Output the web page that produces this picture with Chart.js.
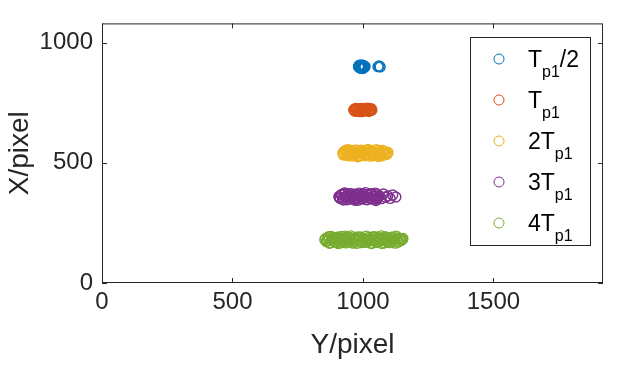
<!DOCTYPE html>
<html>
<head>
<meta charset="utf-8">
<script src="https://cdn.jsdelivr.net/npm/chart.js@4"></script>
<style>
  html, body { margin: 0; padding: 0; background: #fff; }
  #wrap { width: 617px; height: 369px; }
</style>
</head>
<body>
<div id="wrap"><canvas id="myChart" width="617" height="369"></canvas></div>
<script>
// ejes
const xTicks = [0, 500, 1000, 1500];
const yTicks = [0, 500, 1000];
const xMax = 1920;
const yMax = 1080;

// series (Y/pixel horizontal, X/pixel vertical)
const tHalfY = [983, 988, 992, 996, 1000, 1004, 1008, 986, 994, 1002, 990, 998, 1058, 1062, 1066,
  989, 993, 997, 1001, 985, 1005, 995, 999];
const tHalfX = [900, 895, 904, 898, 902, 896, 901, 906, 893, 905, 899, 901, 900, 903, 899,
  897, 903, 899, 895, 902, 899, 907, 892];

const t1Y = [965, 970, 975, 980, 985, 990, 995, 1000, 1005, 1010, 1015, 1020, 1025, 1030, 1034, 972, 988, 1008, 1022,
  967, 978, 983, 993, 998, 1003, 1013, 1018, 1028, 1032, 969, 996, 1016];
const t1X = [720, 716, 723, 719, 725, 717, 721, 714, 722, 718, 724, 716, 720, 722, 719, 726, 713, 726, 714,
  723, 714, 722, 726, 717, 724, 720, 727, 717, 725, 715, 713, 723];

const t2Y = [923, 928, 934, 940, 946, 952, 958, 964, 970, 976, 982, 988, 994, 1000, 1006, 1012, 1018, 1024, 1030, 1036, 1042, 1048, 1054, 1060, 1066, 1072, 1078, 1084, 1090, 1096, 940, 980, 1020, 1060, 960, 1000, 1040,
  925, 931, 937, 943, 949, 955, 961, 967, 973, 979, 985, 991, 997, 1003, 1009, 1015, 1021, 1027, 1033, 1039, 1045, 1051, 1057, 1063, 1069, 1075, 1081, 1087, 1093];
const t2X = [540, 548, 532, 545, 536, 552, 528, 543, 549, 535, 541, 530, 553, 538, 546, 533, 550, 539, 527, 547, 542, 534, 551, 537, 544, 529, 548, 540, 535, 543, 555, 525, 556, 526, 540, 546, 532,
  533, 541, 550, 529, 547, 537, 545, 531, 554, 539, 527, 548, 536, 543, 529, 552, 534, 545, 549, 532, 540, 555, 528, 547, 536, 551, 533, 546, 538];

const t3Y = [908, 913, 919, 925, 931, 937, 943, 949, 955, 961, 967, 973, 979, 985, 991, 997, 1003, 1009, 1015, 1021, 1027, 1033, 1039, 1045, 1051, 1057, 1063, 1070, 1078, 1086, 1095, 1104, 1114, 1126, 930, 970, 1010, 1050,
  910, 916, 922, 928, 934, 940, 946, 952, 958, 964, 970, 976, 982, 988, 994, 1000, 1006, 1012, 1018, 1024, 1030, 1036, 1042, 1048, 1054, 1060];
const t3X = [360, 352, 368, 345, 373, 356, 364, 349, 371, 358, 347, 366, 354, 374, 361, 350, 369, 357, 346, 365, 353, 372, 359, 348, 367, 355, 363, 351, 370, 357, 362, 352, 366, 358, 375, 344, 376, 343,
  355, 366, 349, 370, 360, 346, 372, 354, 363, 350, 369, 357, 344, 367, 353, 372, 360, 348, 366, 355, 371, 349, 362, 374, 351, 358];

const t4Y = [854, 860, 866, 872, 878, 884, 890, 896, 902, 908, 914, 920, 926, 932, 938, 944, 950, 956, 962, 968, 974, 980, 986, 992, 998, 1004, 1010, 1016, 1022, 1028, 1034, 1040, 1046, 1052, 1058, 1064, 1070, 1076, 1082, 1088, 1094, 1100, 1106, 1112, 1118, 1124, 1130, 1136, 1142, 1148, 1153,
  857, 863, 869, 875, 881, 887, 893, 899, 905, 911, 917, 923, 929, 935, 941, 947, 953, 959, 965, 971, 977, 983, 989, 995, 1001, 1007, 1013, 1019, 1025, 1031, 1037, 1043, 1049, 1055, 1061, 1067, 1073, 1079, 1085, 1091, 1097, 1103, 1109, 1115, 1121, 1127, 1133, 1139, 1145, 1151];
const t4X = [180, 172, 188, 165, 194, 176, 184, 169, 191, 178, 167, 186, 174, 195, 181, 170, 189, 177, 166, 185, 173, 192, 179, 168, 187, 175, 183, 171, 190, 177, 164, 193, 182, 169, 186, 174, 196, 180, 167, 188, 176, 184, 170, 191, 178, 166, 187, 173, 182, 179, 185,
  185, 176, 193, 168, 182, 190, 171, 187, 164, 179, 194, 173, 184, 167, 190, 176, 196, 170, 182, 188, 165, 180, 192, 174, 186, 169, 195, 178, 183, 166, 189, 175, 192, 171, 181, 187, 164, 178, 193, 172, 185, 168, 190, 177, 183, 195, 170, 186, 176, 181];

// leyenda: [prefijo, 'T', subindice, sufijo]
const legendLabels = [
  ['', 'T', 'p1', '/2'],
  ['', 'T', 'p1', ''],
  ['2', 'T', 'p1', ''],
  ['3', 'T', 'p1', ''],
  ['4', 'T', 'p1', '']
];
const colores = ['#0072BD', '#D95319', '#EDB120', '#7E2F8E', '#77AC30'];

const ejeColor = '#262626';
const fuente = "'Liberation Sans', Arial, Helvetica, sans-serif";

function puntos(xs, ys) {
  return xs.map((v, i) => ({ x: v, y: ys[i] }));
}

const series = [
  puntos(tHalfY, tHalfX),
  puntos(t1Y, t1X),
  puntos(t2Y, t2X),
  puntos(t3Y, t3X),
  puntos(t4Y, t4X)
];

// caja + ticks hacia dentro + leyenda
const cajaPlugin = {
  id: 'caja',
  afterDraw(chart) {
    const ctx = chart.ctx;
    const a = chart.chartArea;
    const xs = chart.scales.x, ys = chart.scales.y;
    ctx.save();
    ctx.strokeStyle = ejeColor;
    ctx.lineWidth = 1;
    ctx.strokeRect(a.left + 0.5, a.top + 0.5, a.right - a.left - 1, a.bottom - a.top - 1);
    const tl = 5;
    ctx.beginPath();
    xTicks.forEach(v => {
      const px = Math.round(xs.getPixelForValue(v)) + 0.5;
      ctx.moveTo(px, a.bottom); ctx.lineTo(px, a.bottom - tl);
      ctx.moveTo(px, a.top); ctx.lineTo(px, a.top + tl);
    });
    yTicks.forEach(v => {
      const py = Math.round(ys.getPixelForValue(v)) + 0.5;
      ctx.moveTo(a.left, py); ctx.lineTo(a.left + tl, py);
      ctx.moveTo(a.right, py); ctx.lineTo(a.right - tl, py);
    });
    ctx.stroke();

    // leyenda
    const lx = 470, ly = 37, lw = 120, lh = 208;
    ctx.fillStyle = '#fff';
    ctx.fillRect(lx, ly, lw, lh);
    ctx.strokeStyle = ejeColor;
    ctx.strokeRect(lx + 0.5, ly + 0.5, lw, lh);
    legendLabels.forEach((p, i) => {
      const cy = 59 + i * 41;
      ctx.beginPath();
      ctx.strokeStyle = colores[i];
      ctx.lineWidth = 1;
      ctx.arc(499, cy, 5, 0, Math.PI * 2);
      ctx.stroke();
      ctx.fillStyle = '#000';
      ctx.textBaseline = 'alphabetic';
      ctx.textAlign = 'left';
      let x = 528;
      const base = cy + 8;
      ctx.font = '23px ' + fuente;
      ctx.fillText(p[0] + p[1], x, base);
      x += ctx.measureText(p[0] + p[1]).width;
      ctx.font = '16px ' + fuente;
      ctx.fillText(p[2], x, base + 10);
      x += ctx.measureText(p[2]).width;
      ctx.font = '23px ' + fuente;
      ctx.fillText(p[3], x, base);
    });
    ctx.restore();
  }
};

const ctx = document.getElementById('myChart');
new Chart(ctx, {
  type: 'scatter',
  data: {
    datasets: series.map((d, i) => ({
      label: legendLabels[i].join(''),
      data: d,
      showLine: false,
      pointStyle: 'circle',
      pointRadius: 5,
      pointBorderWidth: 1.4,
      borderColor: colores[i],
      backgroundColor: 'rgba(0,0,0,0)'
    }))
  },
  options: {
    responsive: false,
    animation: false,
    events: [],
    layout: { padding: { left: 0, right: 14, top: 23, bottom: 0 } },
    plugins: {
      legend: { display: false },
      tooltip: { enabled: false }
    },
    scales: {
      x: {
        type: 'linear',
        min: 0,
        max: xMax,
        grid: { display: false, drawTicks: false },
        border: { display: false },
        afterFit(scale) { scale.height = 86; },
        afterBuildTicks(scale) { scale.ticks = xTicks.map(v => ({ value: v })); },
        ticks: {
          includeBounds: false,
          padding: 5,
          color: ejeColor,
          font: { family: fuente, size: 24 },
          callback: v => String(v)
        },
        title: {
          display: true,
          text: 'Y/pixel',
          color: ejeColor,
          font: { family: fuente, size: 28 },
          padding: { top: 0, bottom: 7 }
        }
      },
      y: {
        type: 'linear',
        min: 0,
        max: yMax,
        grid: { display: false, drawTicks: false },
        border: { display: false },
        afterFit(scale) { scale.width = 102; },
        afterBuildTicks(scale) { scale.ticks = yTicks.map(v => ({ value: v })); },
        ticks: {
          includeBounds: false,
          padding: 9,
          color: ejeColor,
          font: { family: fuente, size: 24 },
          callback: v => String(v)
        },
        title: {
          display: true,
          text: 'X/pixel',
          color: ejeColor,
          font: { family: fuente, size: 28 },
          padding: { top: 3, bottom: 0 }
        }
      }
    }
  },
  plugins: [cajaPlugin]
});
</script>
</body>
</html>
